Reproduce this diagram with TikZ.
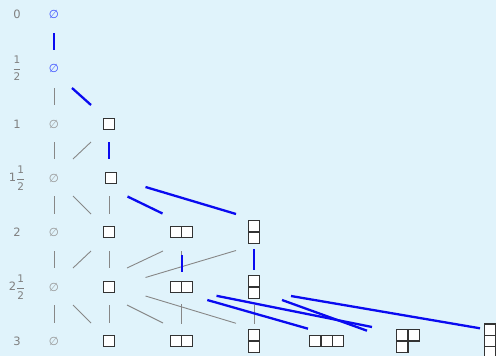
\documentclass[tikz,border=0pt]{standalone}
\usepackage{amsmath}
\usepackage{fontspec}
\setmainfont{DejaVu Sans}
\usetikzlibrary{calc}
\definecolor{bg}{RGB}{224,243,251}
\definecolor{lbl}{RGB}{128,128,128}
\definecolor{emp}{RGB}{150,150,150}
\definecolor{bemp}{RGB}{60,80,255}
\definecolor{hl}{RGB}{10,10,240}
\definecolor{gl}{RGB}{135,135,135}
\newcommand\half{\ensuremath{\genfrac{}{}{0.5pt}{0}{\mbox{\fontsize{10.5}{10.5}\selectfont 1}}{\mbox{\fontsize{10.5}{10.5}\selectfont 2}}}}
\newcommand\ydcell[2]{\draw[cellst] ($(#1)+(#2)$) rectangle ++(11.3,11.3);}
\begin{document}
\begin{tikzpicture}[x=1pt,y=-1pt,
  lab/.style={text=lbl,font=\fontsize{11.5}{13}\selectfont,inner sep=0pt},
  empt/.style={text=emp,font=\fontsize{11.5}{13}\selectfont\itshape,inner sep=0pt},
  bempt/.style={empt,text=bemp},
  cellst/.style={draw=black!80,fill=white,line width=1.2pt},
  gline/.style={draw=gl,line width=0.9pt},
  bline/.style={draw=hl,line width=2.3pt}]
\path[fill=bg] (0,0) rectangle (496,356);
\useasboundingbox (0,0) rectangle (496,356);
% row labels
\node[lab] (r0) at (17,14) {0};
\node[lab] (r1) at (17,68) {\half};
\node[lab] (r2) at (17,124) {1};
\node[lab] (r3) at (17,178) {1\half};
\node[lab] (r4) at (17,232) {2};
\node[lab] (r5) at (17,287) {2\half};
\node[lab] (r6) at (17,341) {3};
% empty partitions
\node[bempt] (e0) at (54,14) {∅};
\node[bempt] (e1) at (54,68) {∅};
\node[empt] (e2) at (54,124) {∅};
\node[empt] (e3) at (54,178) {∅};
\node[empt] (e4) at (54,232) {∅};
\node[empt] (e5) at (54,287) {∅};
\node[empt] (e6) at (54,341) {∅};
% diagram centres
\coordinate (a2) at (109,124);
\coordinate (a3) at (111,178);
\coordinate (a4) at (109,232);
\coordinate (a5) at (109,287);
\coordinate (a6) at (109,341);
\coordinate (b4) at (181.5,232);
\coordinate (b5) at (181.5,287);
\coordinate (b6) at (181.5,341);
\coordinate (c4) at (254,232);
\coordinate (c5) at (254,287);
\coordinate (c6) at (254,341);
\coordinate (d6) at (326.7,341);
\coordinate (f6) at (408,341);
\coordinate (g6) at (490,341);
% single boxes
\foreach \n in {a2,a3,a4,a5,a6}{\ydcell{\n}{-5.65,-5.65}}
% two in a row
\foreach \n in {b4,b5,b6}{\ydcell{\n}{-11.3,-5.65}\ydcell{\n}{0,-5.65}}
% two in a column
\foreach \n in {c4,c5,c6}{\ydcell{\n}{-5.65,-11.3}\ydcell{\n}{-5.65,0}}
% three in a row
\ydcell{d6}{-16.95,-5.65}\ydcell{d6}{-5.65,-5.65}\ydcell{d6}{5.65,-5.65}
% L shape
\ydcell{f6}{-11.3,-11.3}\ydcell{f6}{0,-11.3}\ydcell{f6}{-11.3,0}
% three in a column
\ydcell{g6}{-5.65,-16.95}\ydcell{g6}{-5.65,-5.65}\ydcell{g6}{-5.65,5.65}
% gray connectors
\draw[gline] (54,88) -- (54,105);
\draw[gline] (54,142) -- (54,159);
\draw[gline] (73,159) -- (91,142);
\draw[gline] (54,196) -- (54,214);
\draw[gline] (73,196) -- (91,214);
\draw[gline] (109,196) -- (109,214);
\draw[gline] (54,251) -- (54,268);
\draw[gline] (73,268) -- (91,251);
\draw[gline] (109,251) -- (109,268);
\draw[gline] (127,268) -- (163,251);
\draw[gline] (181.7,251) -- (181.7,268);
\draw[gline] (145.5,277.5) -- (236,250.5);
\draw[gline] (54,305) -- (54,323);
\draw[gline] (73,305) -- (91,323);
\draw[gline] (109,305) -- (109,323);
\draw[gline] (127,305) -- (163,323);
\draw[gline] (145.5,296) -- (236,323.3);
\draw[gline] (181.7,304) -- (181.7,323.5);
\draw[gline] (254,305) -- (254,323.5);
% blue path
\draw[bline] (54,33) -- (54,50);
\draw[bline] (72,88) -- (91,105);
\draw[bline] (109,142) -- (109,159);
\draw[bline] (127.5,196.5) -- (162.5,213.5);
\draw[bline] (145.5,187) -- (236,214);
\draw[bline] (181.7,255) -- (181.7,272);
\draw[bline] (254,249) -- (254,270);
\draw[bline] (207.3,300) -- (308,328.7);
\draw[bline] (216.5,295.8) -- (372,327);
\draw[bline] (282,300) -- (367,330.7);
\draw[bline] (291,296) -- (480,328.3);
\end{tikzpicture}
\end{document}
